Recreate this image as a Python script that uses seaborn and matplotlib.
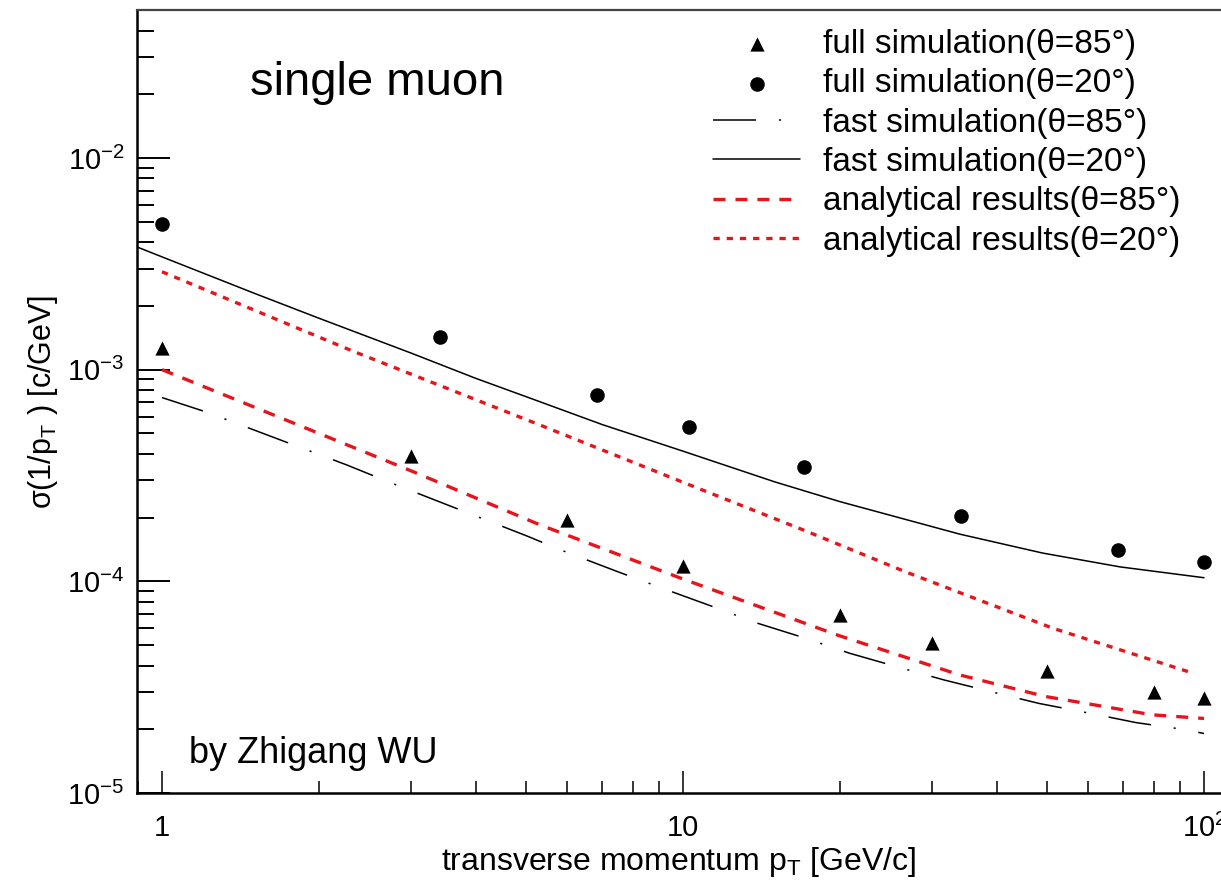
import numpy as np
import matplotlib
matplotlib.use("Agg")
import matplotlib.pyplot as plt
import matplotlib.ticker as mticker
import seaborn as sns

# ---------------- data ----------------
pt_full85 = [1, 3, 6, 10, 20, 30, 50, 80, 100]
sig_full85 = [1.27e-3, 3.9e-4, 1.94e-4, 1.18e-4, 6.9e-5, 5.1e-5, 3.75e-5, 3.0e-5, 2.8e-5]

pt_full20 = [1, 3.42, 6.84, 10.26, 17.1, 34.2, 68.4, 100]
sig_full20 = [4.86e-3, 1.43e-3, 7.57e-4, 5.35e-4, 3.48e-4, 2.04e-4, 1.40e-4, 1.24e-4]

pt_fast85 = [1, 1.22, 2.26, 2.74, 5.04, 5.81, 7.57, 9.23, 11.4, 13.9, 17.2, 20.9,
             26.0, 31.7, 39.7, 48.2, 60.4, 74.1, 92.3, 100]
sig_fast85 = [7.38e-4, 6.29e-4, 3.55e-4, 2.93e-4, 1.63e-4, 1.41e-4, 1.10e-4, 9.18e-5,
              7.6e-5, 6.34e-5, 5.38e-5, 4.57e-5, 3.92e-5, 3.42e-5, 2.98e-5, 2.65e-5,
              2.38e-5, 2.15e-5, 1.99e-5, 1.91e-5]

pt_fast20 = [0.895, 1, 1.5, 2, 3, 4, 5, 7, 10, 15, 20, 34, 49, 69, 100]
sig_fast20 = [3.80e-3, 3.41e-3, 2.30e-3, 1.75e-3, 1.20e-3, 9.1e-4, 7.45e-4, 5.50e-4,
              4.12e-4, 2.95e-4, 2.38e-4, 1.67e-4, 1.36e-4, 1.17e-4, 1.04e-4]

pt_ana85 = [1, 3.03, 5.31, 9.95, 19.8, 34, 49.5, 79.6, 100]
sig_ana85 = [1.0e-3, 3.30e-4, 1.85e-4, 1.03e-4, 5.57e-5, 3.61e-5, 2.86e-5, 2.34e-5, 2.25e-5]

pt_ana20 = [1, 2.33, 5.31, 10.2, 17, 26.7, 51.3, 95.3]
sig_ana20 = [2.9e-3, 1.22e-3, 5.48e-4, 2.88e-4, 1.75e-4, 1.11e-4, 6.0e-5, 3.68e-5]

labels = ["full simulation(θ=85°)", "full simulation(θ=20°)",
          "fast simulation(θ=85°)", "fast simulation(θ=20°)",
          "analytical results(θ=85°)", "analytical results(θ=20°)"]
x_ticks = [1, 10, 100]
x_ticklabels = ["1", "10", "$10^{2}$"]

# ---------------- style ----------------
sns.set_style("white")
plt.rcParams["font.family"] = ["Liberation Sans", "DejaVu Sans"]
plt.rcParams["mathtext.fontset"] = "custom"
plt.rcParams["mathtext.rm"] = "Liberation Sans"
plt.rcParams["mathtext.it"] = "Liberation Sans:italic"
plt.rcParams["mathtext.default"] = "regular"
plt.rcParams["lines.scale_dashes"] = False
for k in ["text.color", "axes.labelcolor", "xtick.color", "ytick.color"]:
    plt.rcParams[k] = "black"

RED = "#e8141c"
W, H = 1221, 886
fig = plt.figure(figsize=(W / 100, H / 100), dpi=100)
ax_l, ax_r, ax_t, ax_b = 137, 1221, 10, 793
ax = fig.add_axes([ax_l / W, 1 - ax_b / H, (ax_r - ax_l) / W, (ax_b - ax_t) / H])
ax.set_xscale("log")
ax.set_yscale("log")

sns.scatterplot(x=pt_full85, y=sig_full85, marker="^", s=105, color="black",
                edgecolor="black", linewidth=0, label=labels[0], ax=ax, zorder=5)
sns.scatterplot(x=pt_full20, y=sig_full20, marker="o", s=110, color="black",
                edgecolor="black", linewidth=0, label=labels[1], ax=ax, zorder=5)
sns.lineplot(x=pt_fast85, y=sig_fast85, color="black", lw=1.1, estimator=None, sort=False,
             linestyle=(0, (31, 16.5, 1.5, 16.5)), label=labels[2], ax=ax)
sns.lineplot(x=pt_fast20, y=sig_fast20, color="black", lw=1.1, estimator=None, sort=False,
             linestyle="-", label=labels[3], ax=ax)
sns.lineplot(x=pt_ana85, y=sig_ana85, color=RED, lw=2.4, estimator=None, sort=False,
             linestyle=(0, (8.6, 7.2)), label=labels[4], ax=ax)
sns.lineplot(x=pt_ana20, y=sig_ana20, color=RED, lw=2.4, estimator=None, sort=False,
             linestyle=(0, (4.5, 5.0)), label=labels[5], ax=ax)

ax.set_xlim(10 ** ((ax_l - 162) / 521), 10 ** ((ax_r - 162) / 521 + 0))
ax.set_ylim(1e-5, 5e-2)

ax.xaxis.set_major_locator(mticker.FixedLocator(x_ticks))
ax.xaxis.set_major_formatter(mticker.FixedFormatter(x_ticklabels))
ax.xaxis.set_minor_locator(mticker.LogLocator(base=10, subs=np.arange(2, 10), numticks=20))
ax.xaxis.set_minor_formatter(mticker.NullFormatter())
ax.yaxis.set_major_locator(mticker.LogLocator(base=10, numticks=10))
ax.yaxis.set_minor_locator(mticker.LogLocator(base=10, subs=np.arange(2, 10), numticks=20))
ax.yaxis.set_minor_formatter(mticker.NullFormatter())

ax.tick_params(axis="y", which="major", direction="in", length=24, width=1.4, pad=9,
               labelsize=21, left=True, right=False)
ax.tick_params(axis="y", which="minor", direction="in", length=12, width=1.4, left=True, right=False)
ax.tick_params(axis="x", which="major", direction="in", length=16, width=1.1, pad=15,
               labelsize=21, bottom=True, top=False)
ax.tick_params(axis="x", which="minor", direction="in", length=8.5, width=1.1, bottom=True, top=False)

for side in ["left", "bottom"]:
    ax.spines[side].set_linewidth(1.8)
    ax.spines[side].set_color("black")
ax.spines["top"].set_linewidth(1.6)
ax.spines["top"].set_color("#444444")
ax.spines["right"].set_visible(False)

ax.set_xlabel("transverse momentum p$_{T}$ [GeV/c]", fontsize=23)
ax.set_ylabel("σ(1/p$_{T}$ ) [c/GeV]", fontsize=22)
ax.xaxis.set_label_coords((679 - ax_l) / (ax_r - ax_l), -(845 - ax_b) / (ax_b - ax_t))
ax.yaxis.set_label_coords(-(ax_l - 60) / (ax_r - ax_l), 0.5)

fig.text(250 / W, 1 - 95 / H, "single muon", fontsize=34, va="baseline", ha="left")
fig.text(189 / W, 1 - 763 / H, "by Zhigang WU", fontsize=26, va="baseline", ha="left")

leg = ax.legend(loc="upper left", bbox_to_anchor=(713 / W, 1 - 29 / H),
                bbox_transform=fig.transFigure, frameon=False, fontsize=24,
                borderpad=0, borderaxespad=0, handlelength=2.62, handletextpad=0.69,
                labelspacing=0.25, scatterpoints=1)

fig.savefig("out.png", dpi=100)
